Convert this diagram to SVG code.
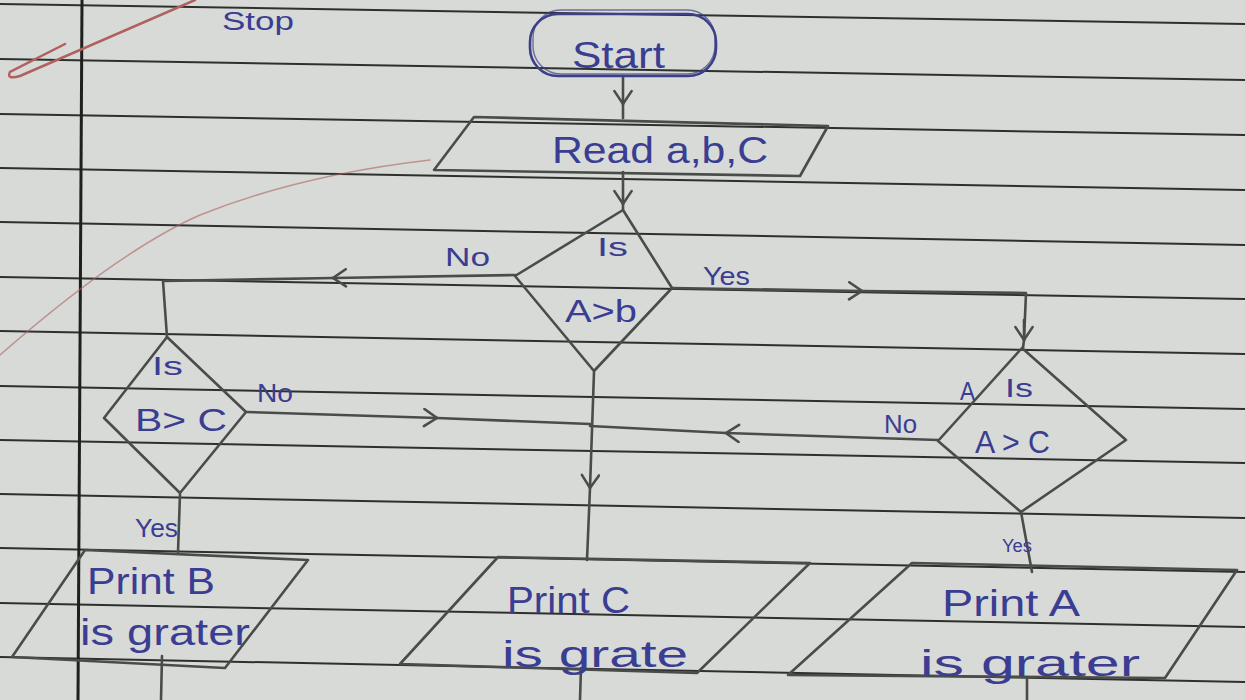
<svg xmlns="http://www.w3.org/2000/svg" width="1245" height="700" viewBox="0 0 1245 700">
<style>
.rule{stroke:#2e302e;stroke-width:2;fill:none}
.pen{stroke:#4a4c4a;stroke-width:2.6;fill:none;stroke-linejoin:round;stroke-linecap:round}
.ink{fill:#3a3d92;font-family:"Liberation Sans","DejaVu Sans",sans-serif;font-size:37px}
.sm{font-size:25px}
.xs{font-size:18px}
.md{font-size:32px}
.red{stroke:#b06060;fill:none;stroke-linecap:round}
</style>
<defs>
<marker id="chev" viewBox="0 0 14 14" refX="11" refY="7" markerWidth="20" markerHeight="20" markerUnits="userSpaceOnUse" orient="auto">
<path d="M2,1 L11,7 L2,13" fill="none" stroke="#4a4c4a" stroke-width="1.8" stroke-linecap="round"/>
</marker>
</defs>
<rect x="0" y="0" width="1245" height="700" fill="#d7dad6"/>
<g id="paper">
<line class="rule" x1="0" y1="4" x2="1245" y2="24"/>
<line class="rule" x1="0" y1="59" x2="1245" y2="80"/>
<line class="rule" x1="0" y1="114" x2="1245" y2="135"/>
<line class="rule" x1="0" y1="168" x2="1245" y2="190"/>
<line class="rule" x1="0" y1="222" x2="1245" y2="245"/>
<line class="rule" x1="0" y1="277" x2="1245" y2="299"/>
<line class="rule" x1="0" y1="331" x2="1245" y2="354"/>
<line class="rule" x1="0" y1="386" x2="1245" y2="409"/>
<line class="rule" x1="0" y1="440" x2="1245" y2="463"/>
<line class="rule" x1="0" y1="494" x2="1245" y2="518"/>
<line class="rule" x1="0" y1="548" x2="1245" y2="572"/>
<line class="rule" x1="0" y1="603" x2="1245" y2="627"/>
<line class="rule" x1="0" y1="657" x2="1245" y2="682"/>
<line x1="82" y1="0" x2="78" y2="700" stroke="#1e201e" stroke-width="3"/>
<path class="red" stroke-width="2.5" d="M195,0 L20,76 Q6,80 10,72 L65,44"/>
<path class="red" stroke-width="1.5" opacity="0.6" d="M0,355 Q120,250 200,215 Q300,175 430,160"/>
<text class="ink sm" x="222" y="30" textLength="72" lengthAdjust="spacingAndGlyphs">Stop</text>
</g>
<g id="connectors">
<line class="pen" x1="623" y1="76" x2="623" y2="104" marker-end="url(#chev)"/>
<line class="pen" x1="623" y1="104" x2="623" y2="118"/>
<line class="pen" x1="623" y1="172" x2="623" y2="204" marker-end="url(#chev)"/>
<line class="pen" x1="623" y1="204" x2="623" y2="210"/>
<line class="pen" x1="515" y1="275" x2="333" y2="278" marker-end="url(#chev)"/>
<polyline class="pen" points="333,278 163,281 167,337"/>
<line class="pen" x1="672" y1="288" x2="862" y2="291" marker-end="url(#chev)"/>
<polyline class="pen" points="862,291 1026,293 1024,340"/>
<line class="pen" x1="1024" y1="320" x2="1024" y2="340" marker-end="url(#chev)"/>
<line class="pen" x1="1024" y1="340" x2="1023" y2="348"/>
<line class="pen" x1="246" y1="412" x2="437" y2="418" marker-end="url(#chev)"/>
<line class="pen" x1="437" y1="418" x2="590" y2="424"/>
<line class="pen" x1="938" y1="440" x2="726" y2="433" marker-end="url(#chev)"/>
<line class="pen" x1="726" y1="433" x2="590" y2="426"/>
<line class="pen" x1="594" y1="372" x2="590" y2="488" marker-end="url(#chev)"/>
<line class="pen" x1="590" y1="488" x2="587" y2="560"/>
<line class="pen" x1="180" y1="494" x2="178" y2="552"/>
<line class="pen" x1="1021" y1="512" x2="1032" y2="572"/>
<line class="pen" x1="162" y1="656" x2="161" y2="700"/>
<line class="pen" x1="581" y1="668" x2="580" y2="700"/>
<line class="pen" x1="1027" y1="677" x2="1027" y2="700"/>
<text class="ink sm" x="445" y="266" textLength="45" lengthAdjust="spacingAndGlyphs">No</text>
<text class="ink sm" x="703" y="285" textLength="47" lengthAdjust="spacingAndGlyphs">Yes</text>
<text class="ink sm" x="257" y="402" textLength="36" lengthAdjust="spacingAndGlyphs">No</text>
<text class="ink sm" x="135" y="537" textLength="43" lengthAdjust="spacingAndGlyphs">Yes</text>
<text class="ink sm" x="884" y="433" textLength="33" lengthAdjust="spacingAndGlyphs">No</text>
<text class="ink xs" x="1002" y="552" textLength="30" lengthAdjust="spacingAndGlyphs">Yes</text>
</g>
<g id="start">
<rect x="530" y="14" width="186" height="62" rx="28" fill="none" stroke="#3d4088" stroke-width="2.6"/>
<rect x="533" y="10" width="182" height="64" rx="28" fill="none" stroke="#3d4088" stroke-width="1.4" opacity="0.7"/>
<text class="ink" x="572" y="68" textLength="93" lengthAdjust="spacingAndGlyphs">Start</text>
</g>
<g id="read">
<polygon class="pen" points="474,117 828,126 800,176 434,170"/>
<text class="ink" x="552" y="163" textLength="216" lengthAdjust="spacingAndGlyphs">Read  a,b,C</text>
</g>
<g id="decision-ab">
<polygon class="pen" points="623,210 672,288 594,371 515,276"/>
<text class="ink sm" x="597" y="256" textLength="31" lengthAdjust="spacingAndGlyphs">Is</text>
<text class="ink md" x="565" y="322" textLength="72" lengthAdjust="spacingAndGlyphs">A&gt;b</text>
</g>
<g id="decision-bc">
<polygon class="pen" points="167,337 246,412 180,493 104,418"/>
<text class="ink sm" x="152" y="375" textLength="31" lengthAdjust="spacingAndGlyphs">Is</text>
<text class="ink md" x="135" y="431" textLength="92" lengthAdjust="spacingAndGlyphs">B&gt; C</text>
</g>
<g id="decision-ac">
<polygon class="pen" points="1022,348 1126,440 1021,512 938,441"/>
<text class="ink sm" x="960" y="400" textLength="15" lengthAdjust="spacingAndGlyphs">A</text>
<text class="ink sm" x="1005" y="397" textLength="28" lengthAdjust="spacingAndGlyphs">Is</text>
<text class="ink md" x="975" y="453" textLength="75" lengthAdjust="spacingAndGlyphs">A &gt; C</text>
</g>
<g id="print-b">
<polygon class="pen" points="85,550 308,560 225,668 12,657"/>
<text class="ink" x="87" y="594" textLength="128" lengthAdjust="spacingAndGlyphs">Print  B</text>
<text class="ink" x="80" y="645" textLength="170" lengthAdjust="spacingAndGlyphs">is grater</text>
</g>
<g id="print-c">
<polygon class="pen" points="498,557 810,563 697,673 400,664"/>
<text class="ink" x="507" y="613" textLength="123" lengthAdjust="spacingAndGlyphs">Print C</text>
<text class="ink" x="502" y="667" textLength="186" lengthAdjust="spacingAndGlyphs">is grate</text>
</g>
<g id="print-a">
<polygon class="pen" points="912,563 1237,570 1165,678 788,675"/>
<text class="ink" x="942" y="616" textLength="138" lengthAdjust="spacingAndGlyphs">Print  A</text>
<text class="ink" x="920" y="676" textLength="220" lengthAdjust="spacingAndGlyphs">is grater</text>
</g>
</svg>
